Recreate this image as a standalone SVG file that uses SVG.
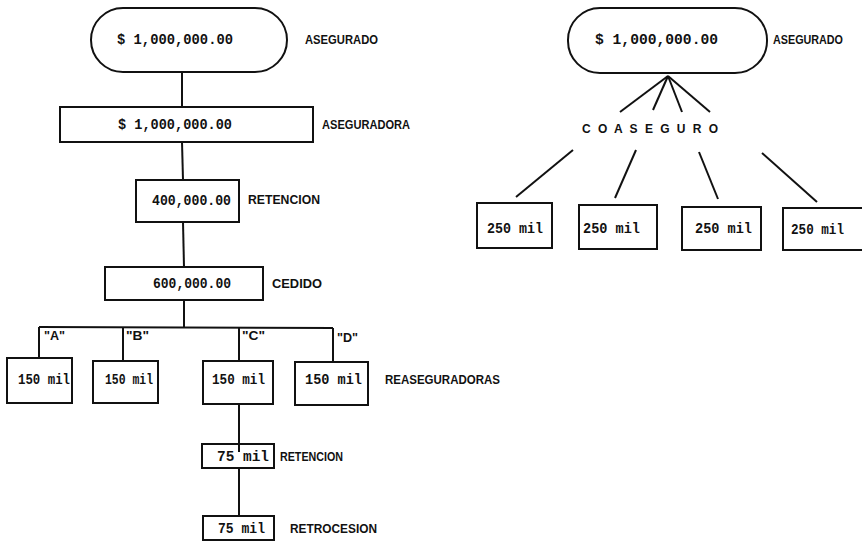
<svg xmlns="http://www.w3.org/2000/svg" width="862" height="542" viewBox="0 0 862 542">
<style>
.n{fill:#fff;stroke:#111;stroke-width:2}
.c{stroke:#111;stroke-width:2;fill:none}
.v{font-family:"Liberation Mono",monospace;font-size:14px;font-weight:bold;fill:#111}
.l{font-family:"Liberation Sans",sans-serif;font-size:12px;font-weight:bold;fill:#111}
</style>
<rect width="862" height="542" fill="#fff"/>
<g id="connectors">
<line class="c" x1="182" y1="72" x2="182" y2="107"/>
<line class="c" x1="182" y1="142" x2="183" y2="180"/>
<line class="c" x1="183" y1="222" x2="184" y2="267"/>
<line class="c" x1="184" y1="300" x2="184" y2="327"/>
<line class="c" x1="39" y1="327" x2="333" y2="328"/>
<line class="c" x1="39" y1="327" x2="39" y2="358"/>
<line class="c" x1="123" y1="327" x2="123" y2="361"/>
<line class="c" x1="239" y1="328" x2="239" y2="361"/>
<line class="c" x1="333" y1="328" x2="333" y2="362"/>
<line class="c" x1="239" y1="404" x2="239" y2="450"/>
<line class="c" x1="239" y1="468" x2="239" y2="516"/>
<line class="c" x1="668" y1="76" x2="620" y2="112"/>
<line class="c" x1="668" y1="76" x2="653" y2="110"/>
<line class="c" x1="668" y1="76" x2="682" y2="112"/>
<line class="c" x1="668" y1="76" x2="710" y2="112"/>
<line class="c" x1="573" y1="150" x2="516" y2="197"/>
<line class="c" x1="636" y1="150" x2="615" y2="198"/>
<line class="c" x1="699" y1="152" x2="718" y2="199"/>
<line class="c" x1="762" y1="153" x2="817" y2="202"/>
</g>
<g id="asegurado-left">
<rect class="n" x="91" y="8" width="196" height="64" rx="32"/>
<text class="v" x="117" y="44" textLength="116" lengthAdjust="spacingAndGlyphs">$ 1,000,000.00</text>
<text class="l" x="305" y="44" textLength="73" lengthAdjust="spacingAndGlyphs">ASEGURADO</text>
</g>
<g id="aseguradora">
<rect class="n" x="60" y="107" width="253" height="35"/>
<text class="v" x="118" y="129" textLength="114" lengthAdjust="spacingAndGlyphs">$ 1,000,000.00</text>
<text class="l" x="322" y="129" textLength="88" lengthAdjust="spacingAndGlyphs">ASEGURADORA</text>
</g>
<g id="retencion">
<rect class="n" x="136" y="180" width="103" height="42"/>
<text class="v" x="152" y="205" textLength="79" lengthAdjust="spacingAndGlyphs">400,000.00</text>
<text class="l" x="248" y="204" textLength="72" lengthAdjust="spacingAndGlyphs">RETENCION</text>
</g>
<g id="cedido">
<rect class="n" x="105" y="267" width="158" height="33"/>
<text class="v" x="153" y="288" textLength="78" lengthAdjust="spacingAndGlyphs">600,000.00</text>
<text class="l" x="272" y="288" textLength="50" lengthAdjust="spacingAndGlyphs">CEDIDO</text>
</g>
<g id="labels-abcd">
<text class="l" x="44" y="340" textLength="21" lengthAdjust="spacingAndGlyphs">"A"</text>
<text class="l" x="126" y="340" textLength="23" lengthAdjust="spacingAndGlyphs">"B"</text>
<text class="l" x="242" y="340" textLength="23" lengthAdjust="spacingAndGlyphs">"C"</text>
<text class="l" x="337" y="342" textLength="21" lengthAdjust="spacingAndGlyphs">"D"</text>
</g>
<g id="rea-a">
<rect class="n" x="7" y="358" width="65" height="45"/>
<text class="v" x="18" y="384" textLength="52" lengthAdjust="spacingAndGlyphs">150 mil</text>
</g>
<g id="rea-b">
<rect class="n" x="93" y="361" width="65" height="42"/>
<text class="v" x="105" y="384" textLength="48" lengthAdjust="spacingAndGlyphs">150 mil</text>
</g>
<g id="rea-c">
<rect class="n" x="203" y="361" width="70" height="43"/>
<text class="v" x="212" y="384" textLength="53" lengthAdjust="spacingAndGlyphs">150 mil</text>
</g>
<g id="rea-d">
<rect class="n" x="295" y="362" width="73" height="43"/>
<text class="v" x="305" y="384" textLength="57" lengthAdjust="spacingAndGlyphs">150 mil</text>
<text class="l" x="385" y="384" textLength="115" lengthAdjust="spacingAndGlyphs">REASEGURADORAS</text>
</g>
<g id="retencion-75">
<rect class="n" x="202" y="444" width="72" height="24"/>
<text class="v" x="217" y="461" textLength="52" lengthAdjust="spacingAndGlyphs">75 mil</text>
<line class="c" x1="239" y1="444" x2="239" y2="452"/>
<text class="l" x="280" y="461" textLength="63" lengthAdjust="spacingAndGlyphs">RETENCION</text>
</g>
<g id="retrocesion">
<rect class="n" x="203" y="516" width="71" height="24"/>
<text class="v" x="218" y="533" textLength="47" lengthAdjust="spacingAndGlyphs">75 mil</text>
<text class="l" x="290" y="533" textLength="87" lengthAdjust="spacingAndGlyphs">RETROCESION</text>
</g>
<g id="asegurado-right">
<rect class="n" x="568" y="8" width="199" height="65" rx="32"/>
<text class="v" x="595" y="44" textLength="123" lengthAdjust="spacingAndGlyphs">$ 1,000,000.00</text>
<text class="l" x="773" y="44" textLength="70" lengthAdjust="spacingAndGlyphs">ASEGURADO</text>
</g>
<g id="coaseguro">
<text class="l" x="582" y="133" textLength="136" lengthAdjust="spacing">C O A S E G U R O</text>
</g>
<g id="co-1">
<rect class="n" x="477" y="203" width="75" height="45"/>
<text class="v" x="487" y="233" textLength="56" lengthAdjust="spacingAndGlyphs">250 mil</text>
</g>
<g id="co-2">
<rect class="n" x="579" y="205" width="78" height="44"/>
<text class="v" x="583" y="233" textLength="57" lengthAdjust="spacingAndGlyphs">250 mil</text>
</g>
<g id="co-3">
<rect class="n" x="682" y="207" width="79" height="43"/>
<text class="v" x="695" y="233" textLength="57" lengthAdjust="spacingAndGlyphs">250 mil</text>
</g>
<g id="co-4">
<rect class="n" x="783" y="208" width="90" height="42"/>
<text class="v" x="791" y="234" textLength="53" lengthAdjust="spacingAndGlyphs">250 mil</text>
</g>
</svg>
